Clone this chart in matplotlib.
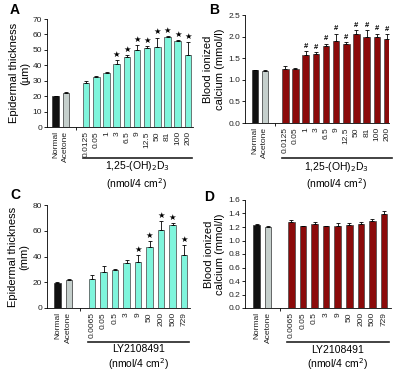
import matplotlib
matplotlib.use("Agg")
import matplotlib.pyplot as plt
import matplotlib.transforms as mtransforms

plt.rcParams['font.family'] = ['Liberation Sans', 'DejaVu Sans']

# ---------------- data ----------------
ctrl_labels = ["Normal", "Acetone"]
vd_doses = ["0.0125", "0.05", "1", "3", "6.5", "9", "12.5", "50", "81", "100", "200"]
ly_doses = ["0.0065", "0.05", "0.5", "3", "9", "50", "200", "500", "729"]

# Panel A: epidermal thickness (µm), 1,25-(OH)2D3
a_ctrl = [19.8, 22.0]
a_ctrl_err = [0.3, 0.5]
a_vals = [28.5, 32.2, 35.2, 40.6, 45.1, 49.7, 51.0, 52.0, 58.5, 55.6, 46.4]
a_err = [1.5, 1.0, 0.6, 2.6, 1.5, 3.4, 1.6, 6.0, 0.4, 0.5, 8.9]
a_sig = [False, False, False, True, True, True, True, True, True, True, True]

# Panel B: blood ionized calcium (mmol/l), 1,25-(OH)2D3
b_ctrl = [1.22, 1.20]
b_ctrl_err = [0.01, 0.02]
b_vals = [1.25, 1.25, 1.58, 1.59, 1.79, 1.89, 1.83, 2.05, 1.99, 1.98, 1.94]
b_err = [0.07, 0.03, 0.09, 0.05, 0.05, 0.18, 0.05, 0.10, 0.17, 0.09, 0.11]
b_sig = [False, False, True, True, True, True, True, True, True, True, True]

# Panel C: epidermal thickness, LY2108491
c_ctrl = [19.5, 22.0]
c_ctrl_err = [0.5, 0.5]
c_vals = [22.7, 27.9, 29.2, 35.1, 35.9, 47.5, 60.9, 64.5, 41.0]
c_err = [2.6, 4.9, 1.3, 2.1, 4.9, 4.6, 6.5, 1.3, 8.0]
c_sig = [False, False, False, False, True, True, True, True, True]

# Panel D: blood ionized calcium, LY2108491
d_ctrl = [1.23, 1.20]
d_ctrl_err = [0.01, 0.02]
d_vals = [1.28, 1.21, 1.24, 1.21, 1.21, 1.23, 1.24, 1.29, 1.39]
d_err = [0.03, 0.01, 0.03, 0.01, 0.05, 0.03, 0.04, 0.03, 0.04]
d_sig = [False] * 9

CYAN = "#7ff5dc"
RED = "#8b0a0a"
BLACK = "#111111"
GRAY = "#c5cfcc"

fig = plt.figure(figsize=(4.08, 3.71), dpi=100)
W, H = 408, 371


def px_axes(l, t, r, b):
    return fig.add_axes([l / W, 1 - b / H, (r - l) / W, (b - t) / H])


def panel(ax, ctrl, ctrl_err, vals, err, sig, doses, color, ymax, ystep,
          yfmt, ylabel, drug_label, sig_mark, xlim, width, letter, letter_xy,
          line_y, t1_y, t2_y, ylabel_x):
    n = len(vals)
    xs_ctrl = [0, 1]
    xs = [3 + i for i in range(n)]
    ax.bar(xs_ctrl, ctrl, width=width, color=[BLACK, GRAY], edgecolor="#333333",
           linewidth=0.5, zorder=2)
    ax.errorbar(xs_ctrl, ctrl, yerr=[[0, 0], ctrl_err], fmt="none", ecolor="black",
                elinewidth=0.6, capsize=1.5, capthick=0.6, zorder=3)
    ax.bar(xs, vals, width=width, color=color, edgecolor="#444444",
           linewidth=0.5, zorder=2)
    ax.errorbar(xs, vals, yerr=[[0] * n, err], fmt="none", ecolor="black",
                elinewidth=0.6, capsize=1.5, capthick=0.6, zorder=3)
    for x, v, e, s in zip(xs, vals, err, sig):
        if s:
            if sig_mark == "*":
                ax.text(x, v + e + ymax * 0.01, "\u2605", ha="center", va="bottom",
                        fontsize=6, family=["DejaVu Sans"])
            else:
                ax.text(x, v + e + ymax * 0.01, "#", ha="center", va="bottom",
                        fontsize=5.5, fontweight="bold")
    ax.set_xlim(*xlim)
    ax.set_ylim(0, ymax)
    yt = [i * ystep for i in range(int(round(ymax / ystep)) + 1)]
    ax.set_yticks(yt)
    ax.set_yticklabels([yfmt.format(t) for t in yt], fontsize=6, color="#222222")
    ax.set_xticks(xs_ctrl + xs)
    ax.set_xticklabels(ctrl_labels + doses, rotation=90, fontsize=6, color="#222222")
    ax.tick_params(axis="x", length=0, pad=3)
    ax.tick_params(axis="y", length=2, width=0.6, pad=1.5)
    ax.set_xticks([2], minor=True)
    ax.tick_params(axis="x", which="minor", length=2, width=0.6)
    for sp in ["top", "right"]:
        ax.spines[sp].set_visible(False)
    for sp in ["left", "bottom"]:
        ax.spines[sp].set_linewidth(0.6)
    trans = mtransforms.blended_transform_factory(ax.transData, ax.transAxes)
    ax.plot([xs[0] - 0.35, xs[-1] + 0.45], [line_y, line_y], color="#222222",
            lw=1.2, transform=trans, clip_on=False)
    xm = (xs[0] + xs[-1]) / 2
    ax.text(xm, t1_y, drug_label, transform=trans, ha="center", va="center",
            fontsize=7.5)
    ax.text(xm, t2_y, "(nmol/4 cm$^{2}$)", transform=trans, ha="center",
            va="center", fontsize=7.5)
    ax.text(ylabel_x, 0.5, ylabel, transform=ax.transAxes, ha="center",
            va="center", rotation=90, fontsize=8, linespacing=1.15)
    fig.text(letter_xy[0] / W, 1 - letter_xy[1] / H, letter, fontsize=10,
             fontweight="bold", ha="center", va="center")


axA = px_axes(47, 19, 193, 127)
panel(axA, a_ctrl, a_ctrl_err, a_vals, a_err, a_sig, vd_doses, CYAN, 70, 10, "{:.0f}",
      "Epidermal thickness\n(\u00b5m)", "1,25-(OH)$_2$D$_3$", "*", (-0.85, 13.5), 0.64,
      "A", (15, 10), -0.29, -0.365, -0.525, -0.19)

axB = px_axes(245, 15, 389, 123)
panel(axB, b_ctrl, b_ctrl_err, b_vals, b_err, b_sig, vd_doses, RED, 2.5, 0.5, "{:.1f}",
      "Blood ionized\ncalcium (mmol/l)", "1,25-(OH)$_2$D$_3$", "#", (-0.96, 13.2), 0.64,
      "B", (214, 10), -0.325, -0.405, -0.565, -0.215)

axC = px_axes(47, 205, 190, 308)
panel(axC, c_ctrl, c_ctrl_err, c_vals, c_err, c_sig, ly_doses, CYAN, 80, 20, "{:.0f}",
      "Epidermal thickness\n(mm)", "LY2108491", "*", (-0.9, 11.5), 0.56,
      "C", (15, 195), -0.33, -0.40, -0.545, -0.196)

axD = px_axes(245, 200, 391, 308)
panel(axD, d_ctrl, d_ctrl_err, d_vals, d_err, d_sig, ly_doses, RED, 1.6, 0.2, "{:.1f}",
      "Blood ionized\ncalcium (mmol/l)", "LY2108491", "#", (-1.0, 11.6), 0.56,
      "D", (209, 197), -0.315, -0.39, -0.52, -0.21)

fig.savefig("out.png", dpi=100)
